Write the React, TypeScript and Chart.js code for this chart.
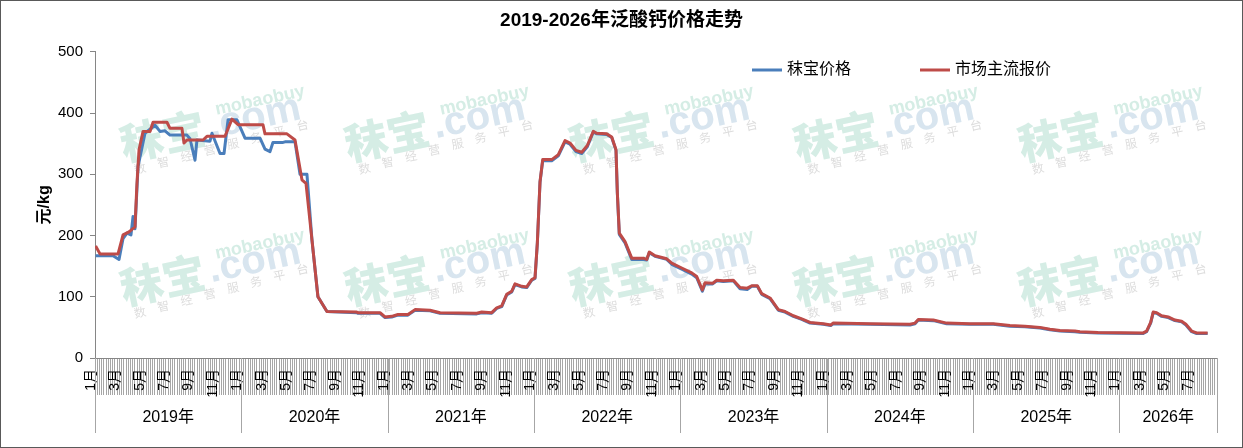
import { useEffect, useRef } from "react";
import { Chart, registerables } from "chart.js";

Chart.register(...registerables);

const chartTitle = "2019-2026年泛酸钙价格走势";
const yAxisTitle = "元/kg";
const seriesNames = ["秣宝价格", "市场主流报价"];
const yearLabels = ["2019年", "2020年", "2021年", "2022年", "2023年", "2024年", "2025年", "2026年"];
const yearStartMonths = [0, 12, 24, 36, 48, 60, 72, 84];
const axisEndMonth = 92;
const monthLabelCycle = ["1月", "3月", "5月", "7月", "9月", "11月"];
const ticksPerTwoMonths = 11;
const yMin = 0;
const yMax = 500;
const yStep = 100;

// [months since start of Jan 2019, price 元/kg]
const mobaoPrice: [number, number][] = [
  [0.05, 167], [1.48, 167], [1.97, 161], [2.3, 195], [2.62, 204], [2.95, 201], [3.12, 231], [3.28, 211],
  [3.53, 313], [4.1, 367], [4.92, 380], [5.33, 370], [5.74, 371], [6.15, 364], [7.54, 364], [7.79, 358],
  [8.2, 323], [8.36, 356], [9.43, 354], [9.59, 367], [10.25, 334], [10.58, 334], [10.91, 389], [11.64, 389],
  [12.3, 359], [13.53, 359], [13.94, 341], [14.35, 337], [14.59, 352], [15.42, 352], [15.58, 353], [16.4, 353],
  [16.81, 300], [17.38, 300], [17.79, 193], [18.28, 100], [19.02, 76], [21.46, 74], [21.56, 73], [23.37, 73],
  [23.78, 66], [24.33, 67], [24.84, 70], [25.66, 70], [26.24, 78], [27.47, 77], [28.29, 73], [31.3, 72],
  [31.71, 74], [32.53, 73], [32.94, 81], [33.35, 84], [33.76, 103], [34.17, 108], [34.44, 120], [34.99, 116],
  [35.4, 115], [35.81, 127], [36.08, 130], [36.27, 187], [36.49, 287], [36.71, 322], [37.45, 322], [37.99, 330],
  [38.54, 353], [38.95, 349], [39.44, 337], [39.91, 334], [40.37, 345], [40.86, 369], [41.14, 366], [41.96, 365],
  [42.37, 360], [42.72, 339], [42.83, 269], [42.99, 202], [43.46, 188], [44.01, 161], [44.96, 161], [45.24, 160],
  [45.45, 172], [45.92, 166], [46.88, 161], [47.29, 153], [48.11, 145], [48.93, 137], [49.34, 131], [49.8, 109],
  [50.02, 121], [50.65, 121], [50.98, 126], [51.52, 125], [52.34, 126], [52.89, 113], [53.48, 112], [53.85, 117],
  [54.31, 117], [54.67, 104], [55.35, 97], [56.03, 78], [56.58, 75], [57.26, 68], [57.95, 63], [58.63, 57],
  [59.72, 55], [60.33, 53], [60.54, 56], [63.55, 55], [66.83, 54], [67.24, 56], [67.51, 62], [68.74, 61],
  [69.83, 56], [71.74, 55], [73.66, 55], [75.02, 52], [76.25, 51], [77.48, 49], [78.3, 46], [79.12, 44],
  [80.35, 43], [80.76, 42], [82.24, 41], [85.95, 40], [86.23, 43], [86.56, 57], [86.77, 74], [87.05, 73],
  [87.46, 68], [88.0, 66], [88.55, 61], [89.1, 59], [89.45, 54], [89.92, 43], [90.33, 40], [91.23, 40],
];

const marketPrice: [number, number][] = [
  [0.05, 183], [0.41, 170], [1.89, 170], [2.3, 201], [2.79, 206], [3.28, 214], [3.44, 285], [3.61, 340],
  [3.94, 370], [4.51, 370], [4.76, 385], [5.9, 385], [6.15, 375], [7.13, 375], [7.3, 351], [7.54, 356],
  [8.86, 356], [9.18, 362], [10.66, 362], [11.23, 390], [11.73, 381], [13.77, 381], [13.94, 366], [15.74, 366],
  [16.4, 356], [16.97, 291], [17.3, 285], [17.79, 193], [18.28, 100], [19.02, 76], [21.46, 75], [21.56, 74],
  [23.37, 74], [23.78, 67], [24.33, 68], [24.84, 71], [25.66, 71], [26.24, 79], [27.47, 78], [28.29, 74],
  [31.3, 73], [31.71, 75], [32.53, 74], [32.94, 82], [33.35, 85], [33.76, 104], [34.17, 109], [34.44, 121],
  [34.99, 117], [35.4, 116], [35.81, 128], [36.08, 131], [36.27, 188], [36.49, 288], [36.71, 324], [37.45, 324],
  [37.99, 332], [38.54, 355], [38.95, 351], [39.44, 339], [39.91, 336], [40.37, 347], [40.86, 370], [41.14, 367],
  [41.96, 366], [42.37, 361], [42.72, 340], [42.83, 270], [42.99, 204], [43.46, 190], [44.01, 163], [44.96, 163],
  [45.24, 161], [45.45, 173], [45.92, 167], [46.88, 162], [47.29, 155], [48.11, 147], [48.93, 139], [49.34, 133],
  [49.8, 111], [50.02, 123], [50.65, 122], [50.98, 127], [51.52, 126], [52.34, 127], [52.89, 115], [53.48, 114],
  [53.85, 118], [54.31, 118], [54.67, 105], [55.35, 98], [56.03, 79], [56.58, 76], [57.26, 69], [57.95, 64],
  [58.63, 58], [59.72, 56], [60.33, 54], [60.54, 57], [63.55, 56], [66.83, 55], [67.24, 57], [67.51, 63],
  [68.74, 62], [69.83, 57], [71.74, 56], [73.66, 56], [75.02, 53], [76.25, 52], [77.48, 50], [78.3, 47],
  [79.12, 45], [80.35, 44], [80.76, 43], [82.24, 41.5], [85.95, 41], [86.23, 44], [86.56, 58], [86.77, 75],
  [87.05, 74], [87.46, 69], [88.0, 67], [88.55, 62], [89.1, 60], [89.45, 55], [89.92, 44], [90.33, 41],
  [91.23, 41],
];

const FONT = "'Liberation Sans', 'Noto Sans CJK SC', sans-serif";
const BLUE = "#4A7EBB";
const RED = "#BE4B48";

// category boundaries along the time axis (11 per two months)
const categoryTicks: number[] = Array.from(
  { length: (axisEndMonth / 2) * ticksPerTwoMonths + 1 },
  (_, i) => (i * 2) / ticksPerTwoMonths
);

const watermarkCols = [207, 431.5, 656, 880.5, 1105];
const watermarkRows = [128, 272];

function drawWatermark(ctx: CanvasRenderingContext2D, cx: number, cy: number) {
  ctx.save();
  ctx.translate(cx, cy);
  ctx.rotate((-12 * Math.PI) / 180);
  ctx.textBaseline = "alphabetic";
  ctx.textAlign = "right";
  ctx.font = `900 43px 'Noto Sans CJK SC'`;
  ctx.fillStyle = "#d5ede5";
  ctx.fillText("秣宝", -2, 15);
  ctx.textAlign = "left";
  ctx.font = `bold 40px 'Liberation Sans'`;
  ctx.fillStyle = "#d8e5ef";
  ctx.fillText(".com", 2, 11);
  ctx.font = `bold 18px 'Liberation Sans'`;
  ctx.fillStyle = "#d5ede5";
  ctx.fillText("mobaobuy", 12, -11);
  ctx.font = `12px 'Noto Sans CJK SC'`;
  ctx.fillStyle = "#dddddd";
  const small = "数智经营服务平台";
  for (let i = 0; i < small.length; i++) ctx.fillText(small[i], -80 + i * 24, 30 - i * 1.2);
  ctx.restore();
}

const decorPlugin = {
  id: "decor",
  beforeDraw(chart: any) {
    const { ctx, width, height } = chart;
    ctx.save();
    ctx.fillStyle = "#fff";
    ctx.fillRect(0, 0, width, height);
    ctx.restore();
  },
  beforeDatasetsDraw(chart: any) {
    const { ctx } = chart;
    watermarkRows.forEach((r) => watermarkCols.forEach((c) => drawWatermark(ctx, c, r)));
  },
  afterDraw(chart: any) {
    const { ctx, chartArea, width, height } = chart;
    const xs = chart.scales.x;
    ctx.save();
    // year group separators and labels
    ctx.strokeStyle = "#a6a6a6";
    ctx.lineWidth = 1;
    const bounds = [...yearStartMonths, axisEndMonth];
    bounds.forEach((m) => {
      const x = Math.round(xs.getPixelForValue(m)) + 0.5;
      ctx.beginPath();
      ctx.moveTo(x, chartArea.bottom);
      ctx.lineTo(x, chartArea.bottom + 75);
      ctx.stroke();
    });
    ctx.fillStyle = "#000";
    ctx.font = `16px ${FONT}`;
    ctx.textAlign = "center";
    ctx.textBaseline = "middle";
    yearLabels.forEach((lab, i) => {
      const a = xs.getPixelForValue(bounds[i]);
      const b = xs.getPixelForValue(bounds[i + 1]);
      ctx.fillText(lab, (a + b) / 2, chartArea.bottom + 60);
    });
    // legend inside plot area
    const legendX = [752, 920];
    const legendY = 70;
    chart.data.datasets.forEach((ds: any, i: number) => {
      ctx.strokeStyle = ds.borderColor;
      ctx.lineWidth = 3;
      ctx.beginPath();
      ctx.moveTo(legendX[i], legendY);
      ctx.lineTo(legendX[i] + 30, legendY);
      ctx.stroke();
      ctx.fillStyle = "#000";
      ctx.textAlign = "left";
      ctx.font = `16px ${FONT}`;
      ctx.fillText(ds.label, legendX[i] + 35, legendY);
    });
    // outer border
    ctx.strokeStyle = "#595959";
    ctx.lineWidth = 1;
    ctx.strokeRect(0.5, 0.5, width - 1, height - 1);
    ctx.restore();
  },
};

export default function App() {
  const ref = useRef<HTMLCanvasElement>(null);
  useEffect(() => {
    const canvas = ref.current;
    if (!canvas) return;
    Chart.defaults.font.family = FONT;
    const chart = new Chart(canvas, {
      type: "line",
      data: {
        datasets: [
          {
            label: seriesNames[0],
            data: mobaoPrice.map(([x, y]) => ({ x, y })),
            borderColor: BLUE,
            backgroundColor: BLUE,
            borderWidth: 3,
            pointRadius: 0,
            tension: 0,
            borderJoinStyle: "round",
            order: 1,
          },
          {
            label: seriesNames[1],
            data: marketPrice.map(([x, y]) => ({ x, y })),
            borderColor: RED,
            backgroundColor: RED,
            borderWidth: 3,
            pointRadius: 0,
            tension: 0,
            borderJoinStyle: "round",
            order: 0,
          },
        ],
      },
      options: {
        responsive: false,
        animation: false,
        layout: { padding: { left: 26, right: 26, top: 0, bottom: 0 } },
        plugins: {
          legend: { display: false },
          tooltip: { enabled: false },
          title: {
            display: true,
            text: chartTitle,
            color: "#000",
            font: { size: 19, weight: "bold", family: FONT },
            padding: { top: 9, bottom: 20 },
          },
        },
        scales: {
          x: {
            type: "linear",
            min: 0,
            max: axisEndMonth,
            afterBuildTicks: (s: any) => {
              s.ticks = categoryTicks.map((v) => ({ value: v }));
            },
            afterFit: (s: any) => {
              s.height = 90;
            },
            grid: { drawOnChartArea: false, drawTicks: true, tickLength: 37, color: "#a6a6a6", lineWidth: 1 },
            border: { color: "#868686" },
            ticks: {
              autoSkip: false,
              minRotation: 90,
              maxRotation: 90,
              padding: -26,
              labelOffset: -4,
              color: "#000",
              font: { size: 14, family: FONT },
              callback: (_v: any, i: number) =>
                i % ticksPerTwoMonths === 0 && i < categoryTicks.length - 1
                  ? monthLabelCycle[(i / ticksPerTwoMonths) % monthLabelCycle.length]
                  : "",
            },
          },
          y: {
            min: yMin,
            max: yMax,
            afterFit: (s: any) => {
              s.width = 69;
            },
            ticks: { stepSize: yStep, padding: 7, color: "#000", font: { size: 15, family: FONT } },
            grid: { drawOnChartArea: false, drawTicks: true, tickLength: 5, color: "#868686" },
            border: { color: "#868686" },
            title: {
              display: true,
              text: yAxisTitle,
              color: "#000",
              font: { size: 16, weight: "bold", family: FONT },
              padding: { top: 9, bottom: 0 },
            },
          },
        },
      },
      plugins: [decorPlugin],
    } as any);
    return () => chart.destroy();
  }, []);
  return (
    <div style={{ position: "absolute", left: 0, top: 0, width: 1243, height: 448 }}>
      <canvas ref={ref} width={1243} height={448} style={{ display: "block", width: 1243, height: 448 }} />
    </div>
  );
}
